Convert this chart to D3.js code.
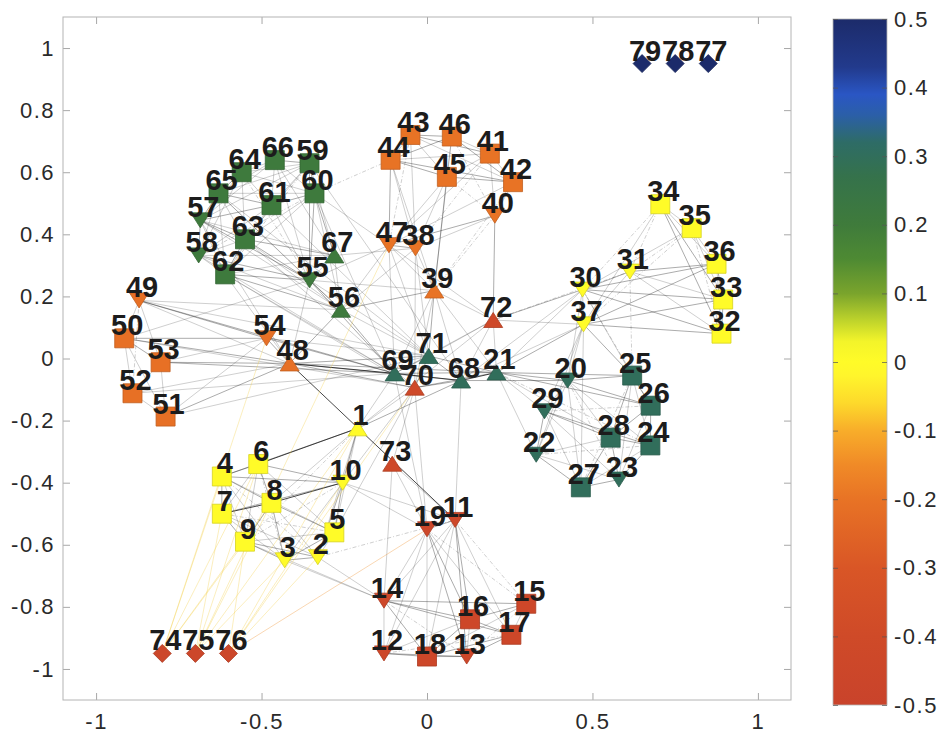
<!DOCTYPE html>
<html>
<head>
<meta charset="utf-8">
<script src="https://cdn.jsdelivr.net/npm/d3@7"></script>
<style>
  html, body { margin: 0; padding: 0; background: #fff; }
  svg { display: block; }
  .tick text { font-family: "Liberation Sans", Arial, Helvetica, sans-serif; }
</style>
</head>
<body>
<svg id="chart" width="941" height="736"></svg>
<script>
// ---- node data -------------------------------------------------------
const nodeIds = d3.range(1, 80);
const nodeX = [
  -0.21, -0.33, -0.43, -0.62, -0.28, -0.51, -0.62, -0.47, -0.55, -0.255,   // 1-10
  0.085, -0.13, 0.12, -0.13, 0.30, 0.13, 0.255, 0.0, 0.0,                  // 11-19
  0.425, 0.21, 0.33, 0.58, 0.675, 0.62, 0.676, 0.465, 0.555, 0.355,        // 20-29
  0.47, 0.613, 0.89, 0.895, 0.705, 0.80, 0.875, 0.473,                     // 30-37
  -0.035, 0.022, 0.205, 0.19, 0.26, -0.05, -0.11, 0.06, 0.075, -0.115,     // 38-47
  -0.415, -0.87, -0.915, -0.79, -0.89, -0.805, -0.485,                     // 48-54
  -0.355, -0.26, -0.685, -0.69, -0.355, -0.34, -0.47, -0.61, -0.55, -0.56, -0.63, -0.46, -0.28, // 55-67
  0.103, -0.098, -0.037, 0.005, 0.2, -0.105,                                // 68-73
  -0.80, -0.70, -0.60, 0.85, 0.75, 0.65                                     // 74-79
];
const nodeY = [
  -0.225, -0.64, -0.65, -0.38, -0.56, -0.34, -0.50, -0.465, -0.59, -0.40,
  -0.52, -0.95, -0.96, -0.78, -0.79, -0.84, -0.89, -0.96, -0.55,
  -0.071, -0.045, -0.31, -0.39, -0.28, -0.055, -0.152, -0.415, -0.255, -0.17,
  0.222, 0.28, 0.08, 0.19, 0.497, 0.42, 0.305, 0.11,
  0.355, 0.219, 0.46, 0.66, 0.568, 0.72, 0.64, 0.585, 0.715, 0.365,
  -0.016, 0.187, 0.065, -0.187, -0.112, -0.012, 0.065,
  0.252, 0.157, 0.445, 0.332, 0.629, 0.532, 0.494, 0.271, 0.384, 0.60, 0.532, 0.639, 0.332,
  -0.071, -0.048, -0.094, 0.008, 0.124, -0.339,
  -0.95, -0.95, -0.95, 0.95, 0.95, 0.95
];
// s = square, u = triangle up, v = triangle down, d = diamond
const nodeShape = [
  "u","v","v","s","s","s","s","s","s","v",
  "v","v","v","v","s","s","s","s","v",
  "v","u","v","v","s","s","s","s","s","v",
  "v","v","s","s","s","s","s","v",
  "v","u","v","s","s","s","s","s","s","v",
  "u","v","s","s","s","s","v",
  "v","u","v","v","s","s","s","s","s","s","s","s","u",
  "u","u","u","u","u","u",
  "d","d","d","d","d","d"
];
const nodeValue = [
  0.0, 0.0, 0.0, 0.0, 0.0, 0.0, 0.0, 0.0, 0.0, 0.0,
  -0.44, -0.44, -0.44, -0.44, -0.44, -0.44, -0.44, -0.44, -0.44,
  0.3, 0.3, 0.3, 0.3, 0.3, 0.3, 0.3, 0.3, 0.3, 0.3,
  0.0, 0.0, 0.0, 0.0, 0.0, 0.0, 0.0, 0.0,
  -0.2, -0.2, -0.2, -0.2, -0.2, -0.2, -0.2, -0.2, -0.2, -0.2,
  -0.21, -0.21, -0.21, -0.21, -0.21, -0.21, -0.21,
  0.21, 0.21, 0.21, 0.21, 0.21, 0.21, 0.21, 0.21, 0.21, 0.21, 0.21, 0.21, 0.21,
  0.3, 0.3, -0.42, 0.3, -0.42, -0.42,
  -0.45, -0.45, -0.45, 0.5, 0.5, 0.5
];

// ---- edges: [source, target, strength(1-3), kind(0 solid, 1 dashed, 2 warm)] ----
const edgesClusterA = [
  [1,6,3],[1,4,2],[1,10,2],[1,5,1],[1,8,1],[1,2,1],[1,9,1,1],
  [4,6,2],[4,7,2],[4,8,2],[4,9,1],[4,10,2],[4,3,1],[4,2,1,1],[4,5,1],
  [6,7,1],[6,8,2],[6,9,1],[6,10,2],[6,5,1],[6,3,1,1],
  [7,8,3],[7,9,2],[7,10,2],[7,3,1],[7,2,1],[7,5,1,1],
  [8,9,2],[8,10,3],[8,3,2],[8,2,1],[8,5,2],
  [9,3,2],[9,2,2],[9,5,1],[9,10,1,1],
  [3,2,2],[3,10,1],[3,5,2],[2,5,1],[2,10,2],[5,10,2]
];
const edgesClusterB = [
  [11,19,2],[11,14,1],[11,12,1],[11,13,2],[11,15,1,1],[11,16,2],[11,17,1],[11,18,1],
  [19,14,1],[19,12,1],[19,13,2],[19,15,1,1],[19,16,2],[19,17,1],[19,18,1],
  [14,12,1],[14,18,2],[14,16,2],[14,17,2],[14,15,2],[14,13,1,1],
  [12,18,2],[12,13,2],[12,16,1],[12,17,1,1],
  [18,13,2],[18,16,2],[18,17,2],[18,15,1],
  [13,16,1],[13,17,2],[13,15,1,1],[16,15,2],[16,17,2],[15,17,1]
];
const edgesClusterC = [
  [21,20,2],[21,29,1],[21,22,1],[21,25,2],[21,26,2],[21,28,1],[21,24,1,1],
  [20,25,2],[20,26,2],[20,28,1],[20,29,1],[20,22,1],[20,27,1],[20,24,1],[20,23,1,1],
  [29,22,2],[29,28,2],[29,27,1],[29,23,1],[29,24,2],[29,26,1,1],
  [22,27,2],[22,28,1],[22,23,1],[22,24,1,1],
  [25,26,2],[25,28,2],[25,24,1],[25,23,1],[25,27,1,1],
  [26,28,2],[26,24,2],[26,23,1],
  [28,24,2],[28,27,2],[28,23,2],[27,23,2],[27,24,1],[23,24,2]
];
const edgesClusterD = [
  [30,31,2],[30,34,1,1],[30,35,1],[30,36,2],[30,33,2],[30,32,2],[30,37,1],
  [37,31,1],[37,36,2],[37,33,2],[37,32,2],[37,34,1],[37,35,1,1],
  [31,34,1,1],[31,35,1,1],[31,36,2],[31,33,1],[31,32,1],
  [34,35,1],[34,36,1],[34,33,2],[34,32,2],
  [35,36,1],[35,33,1],[35,32,1,1],[36,33,2],[36,32,1],[33,32,2]
];
const edgesClusterE = [
  [43,46,2],[43,44,1],[43,45,1],[43,41,2],[43,42,1],[43,38,1],[43,47,1,1],
  [44,46,2],[44,45,2],[44,41,1],[44,47,2],[44,38,1],[44,39,1],[44,42,2],
  [46,41,1],[46,45,1],[46,42,2],[46,40,1,1],[46,39,1],
  [45,41,1],[45,42,2],[45,40,1,1],[45,39,2],[45,38,1],[45,47,1],
  [41,42,1],[41,40,1],[41,38,1,1],[41,47,1],
  [42,40,1],[42,39,1,1],[42,47,1],
  [40,38,1],[40,47,2],[40,72,2],[40,39,1,1],
  [38,47,2],[38,39,1],[47,39,1]
];
const edgesClusterF = [
  [48,49,1],[48,50,2],[48,51,2],[48,52,1],[48,53,2],[48,54,2],
  [49,50,1],[49,53,1],[49,54,2],[49,52,1,1],
  [50,53,2],[50,52,1],[50,51,1],[50,54,2],
  [53,52,1],[53,51,1],[53,54,1],[52,51,1],[51,54,1]
];
const edgesClusterG = [
  [59,60,2],[59,61,1],[59,64,1],[59,66,2],[59,65,1],[59,63,1],[59,57,1],[59,55,2],[59,67,1],[59,62,1,1],
  [60,61,2],[60,66,1],[60,64,1],[60,65,1],[60,55,2],[60,67,2],[60,56,1],[60,63,1],[60,62,1],[60,58,1,1],
  [61,64,1],[61,65,2],[61,66,1],[61,63,1],[61,57,2],[61,58,1],[61,55,1],[61,62,1],
  [62,63,2],[62,58,1],[62,57,1],[62,55,2],[62,56,2],[62,65,1],[62,67,1],
  [63,57,2],[63,58,1],[63,65,1],[63,64,1],[63,55,2],[63,56,1],[63,67,2],
  [64,65,2],[64,66,1],[64,57,1],[64,58,1],[64,55,1,1],
  [65,66,1],[65,57,2],[65,58,1],[65,55,1],[65,56,1],
  [66,57,1],[66,55,1],[66,67,1],
  [57,58,2],[57,55,2],[57,56,1],[57,67,1],
  [58,55,2],[58,56,1],[58,67,1],
  [55,56,2],[55,67,1],[56,67,1]
];
const edgesBetween = [
  [71,69,2],[71,70,2],[71,68,2],[71,21,2],[71,39,2],[71,47,1],[71,38,1],[71,72,1],[71,48,2],[71,56,1],[71,55,1],[71,54,1],
  [69,70,2],[69,68,3],[69,21,2],[69,48,3],[69,49,2],[69,54,2],[69,56,2],[69,55,2],[69,47,1],[69,39,1],[69,1,1],[69,19,1],
  [70,68,2],[70,21,2],[70,48,2],[70,1,1],[70,19,1],[70,38,1],[70,39,1],[70,62,1],
  [68,21,3],[68,11,1],[68,39,1],[68,48,2],[68,72,1],[68,20,2],[68,30,1],[68,37,1],
  [21,48,2],[21,72,1],[21,30,1],[21,37,2],[21,39,1],
  [72,30,2],[72,37,1],[72,39,1],[72,47,1],[72,31,1,1],[72,69,1],[72,1,1],
  [73,14,1],[73,11,1],[73,70,1],[73,19,1],
  [48,11,3],[1,68,2],
  [30,20,1],[37,20,1],[37,29,1],[30,25,1],[37,25,2],[30,26,1,1],[37,22,1],[31,25,1,1],[37,27,1],
  [47,55,1],[47,60,1],[38,56,1],[47,56,1],[55,39,1],[56,39,2],[44,60,1,1],[67,38,1],
  [55,48,1],[56,48,2],[62,48,1],[62,69,1],[58,69,1],[57,48,1],[63,70,1],[65,71,1],[61,71,1],[59,68,1],[60,69,1],
  [49,56,1],[50,55,1],[53,69,2],[50,70,1],[52,69,1],[51,71,1],[49,71,1],
  [10,19,1],[3,14,1],[2,14,1],[9,14,1],[10,70,1],[5,70,1],[2,11,1,1],[10,11,1]
];
const edgesWarm = [
  [74,4,1,2],[74,6,1,2],[74,54,1,2],[74,8,1,2],[74,9,1,2],
  [75,47,1,2],[75,7,1,2],[75,8,1,2],[75,6,1,2],[75,3,1,2],[75,1,1,2],
  [76,9,1,2],[76,1,1,2],[76,19,2,2],[76,70,1,2],[76,10,1,2],[76,2,1,2]
];

// ---- axis ticks and colour map ---------------------------------------
const xTicks = [-1, -0.5, 0, 0.5, 1];
const yTicks = [-1, -0.8, -0.6, -0.4, -0.2, 0, 0.2, 0.4, 0.6, 0.8, 1];
const cbTicks = [-0.5, -0.4, -0.3, -0.2, -0.1, 0, 0.1, 0.2, 0.3, 0.4, 0.5];
const cmapValues = [-0.5, -0.4, -0.3, -0.2, -0.15, -0.1, -0.06, -0.02, 0.0, 0.03, 0.06, 0.1, 0.15, 0.2, 0.27, 0.32, 0.36, 0.39, 0.43, 0.5];
const cmapColors = ["#c9432b", "#cf4a28", "#d95626", "#e87325", "#f08a27", "#f8ad2a", "#fdd92b", "#fff52c", "#fffb28", "#f3f42a",
                    "#bfd42b", "#7aa42c", "#4e8a33", "#3f7b3b", "#35724b", "#2e6c66", "#2b5fa8", "#2a56c4", "#223a8c", "#1c2b6a"];

// ---- scales -----------------------------------------------------------
const x = d3.scaleLinear().domain([-1.1, 1.1]).range([63, 791]);
const y = d3.scaleLinear().domain([-1.1, 1.1]).range([700, 17]);
const color = d3.scaleLinear().domain(cmapValues).range(cmapColors).interpolate(d3.interpolateRgb);
const cbY = d3.scaleLinear().domain([-0.5, 0.5]).range([705, 19]);

const svg = d3.select("#chart");
const fontFamily = '"Liberation Sans", Arial, Helvetica, sans-serif';

const nodes = nodeIds.map((id, i) => ({
  id, x: nodeX[i], y: nodeY[i], shape: nodeShape[i], value: nodeValue[i]
}));
const byId = new Map(nodes.map(n => [n.id, n]));

const edges = [].concat(edgesClusterA, edgesClusterB, edgesClusterC, edgesClusterD,
                        edgesClusterE, edgesClusterF, edgesClusterG, edgesBetween, edgesWarm)
  .map(([s, t, w, k]) => ({ s: byId.get(s), t: byId.get(t), w, k: k || 0 }));

// ---- plot frame ---------------------------------------------------------
const plot = svg.append("g");
plot.append("rect")
  .attr("x", 63).attr("y", 17).attr("width", 728).attr("height", 683)
  .attr("fill", "#fff");

// edges
const opacityFor = { 1: 0.3, 2: 0.52, 3: 0.8 };
plot.append("g").selectAll("line").data(edges).join("line")
  .attr("x1", d => x(d.s.x)).attr("y1", d => y(d.s.y))
  .attr("x2", d => x(d.t.x)).attr("y2", d => y(d.t.y))
  .attr("stroke", d => d.k === 2 ? (d.w > 1 ? "#ef8f2a" : "#f4cf4a") : "#1a1a1a")
  .attr("stroke-width", d => d.k === 2 ? 0.8 : (d.w === 3 ? 1.0 : 0.7))
  .attr("stroke-opacity", d => d.k === 2 ? 0.45 : opacityFor[d.w])
  .attr("stroke-dasharray", d => d.k === 1 ? "4,2,1,2" : null);

// marker paths, centred on the node
function markerPath(shape) {
  const s = 9.5;
  if (shape === "s") return `M${-s},${-s}H${s}V${s}H${-s}Z`;
  if (shape === "u") return `M0,${-7.5}L${s},7.5L${-s},7.5Z`;
  if (shape === "v") return `M0,7.5L${s},${-7.5}L${-s},${-7.5}Z`;
  return `M0,${-9}L9,0L0,9L-9,0Z`;
}

plot.append("g").selectAll("path").data(nodes).join("path")
  .attr("transform", d => `translate(${x(d.x)},${y(d.y)})`)
  .attr("d", d => markerPath(d.shape))
  .attr("fill", d => color(d.value))
  .attr("stroke", d => d3.color(color(d.value)).darker(0.5))
  .attr("stroke-width", 0.8);

// node labels
plot.append("g").selectAll("text").data(nodes).join("text")
  .attr("x", d => x(d.x) + 3)
  .attr("y", d => y(d.y) - 3)
  .attr("text-anchor", "middle")
  .attr("font-family", fontFamily)
  .attr("font-weight", "bold")
  .attr("font-size", 29)
  .attr("fill", "#1c1c1c")
  .text(d => d.id);

// ---- axes ---------------------------------------------------------------
function styleAxis(g) {
  g.select(".domain").remove();
  g.selectAll(".tick line").attr("stroke", "#a8a8a8");
  g.selectAll(".tick text")
    .attr("fill", "#2a2a2a")
    .attr("font-size", 22)
    .attr("letter-spacing", 1.5);
}
const fmt = d => String(d);

svg.append("g").attr("transform", "translate(0,700)")
  .call(d3.axisBottom(x).tickValues(xTicks).tickFormat(fmt).tickSizeInner(-7).tickSizeOuter(0).tickPadding(13))
  .call(styleAxis);
svg.append("g").attr("transform", "translate(0,17)")
  .call(d3.axisTop(x).tickValues(xTicks).tickFormat("").tickSizeInner(-7).tickSizeOuter(0))
  .call(styleAxis);
svg.append("g").attr("transform", "translate(63,0)")
  .call(d3.axisLeft(y).tickValues(yTicks).tickFormat(fmt).tickSizeInner(-7).tickSizeOuter(0).tickPadding(8))
  .call(styleAxis);
svg.append("g").attr("transform", "translate(791,0)")
  .call(d3.axisRight(y).tickValues(yTicks).tickFormat("").tickSizeInner(-7).tickSizeOuter(0))
  .call(styleAxis);

svg.append("rect")
  .attr("x", 63).attr("y", 17).attr("width", 728).attr("height", 683)
  .attr("fill", "none").attr("stroke", "#b4b4b4").attr("stroke-width", 1);

// ---- colour bar ----------------------------------------------------------
const defs = svg.append("defs");
const grad = defs.append("linearGradient").attr("id", "cbar")
  .attr("x1", 0).attr("y1", 1).attr("x2", 0).attr("y2", 0);
grad.selectAll("stop").data(cmapValues).join("stop")
  .attr("offset", d => (d + 0.5))
  .attr("stop-color", d => color(d));

svg.append("rect")
  .attr("x", 833).attr("y", cbY(0.5)).attr("width", 54).attr("height", cbY(-0.5) - cbY(0.5))
  .attr("fill", "url(#cbar)")
  .attr("stroke", "#b4b4b4").attr("stroke-width", 0.8);

const cbAxis = svg.append("g").attr("transform", "translate(887,0)")
  .call(d3.axisRight(cbY).tickValues(cbTicks).tickFormat(fmt).tickSizeInner(-5).tickSizeOuter(0).tickPadding(7))
  .call(styleAxis);
cbAxis.selectAll(".tick line").attr("stroke", "#555").attr("stroke-opacity", 0.7);
svg.append("g").attr("transform", "translate(833,0)")
  .call(d3.axisLeft(cbY).tickValues(cbTicks).tickFormat("").tickSizeInner(-5).tickSizeOuter(0))
  .call(g => { g.select(".domain").remove(); g.selectAll(".tick line").attr("stroke", "#555").attr("stroke-opacity", 0.7); });
</script>
</body>
</html>
